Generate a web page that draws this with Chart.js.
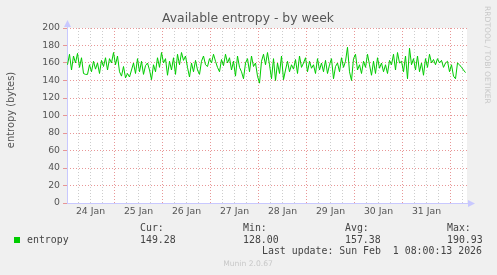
<!DOCTYPE html>
<html>
<head>
<meta charset="utf-8">
<script src="https://cdn.jsdelivr.net/npm/chart.js@4/dist/chart.umd.min.js"></script>
<style>
  html, body { margin: 0; padding: 0; background: #f0f0f0; }
  #wrap { width: 497px; height: 275px; }
</style>
</head>
<body>
<div id="wrap"><canvas id="entropyChart" width="497" height="275"></canvas></div>
<script>
// hours counted from 24 Jan 00:00, one sample per hour
const startHour = 0.5;
const dayLabels = ["24 Jan", "25 Jan", "26 Jan", "27 Jan", "28 Jan", "29 Jan", "30 Jan", "31 Jan"];
const entropy = [
  158, 170, 152, 168, 160, 171, 155, 166, 148, 147,
  147, 158, 150, 162, 153, 160, 148, 163, 156, 166,
  152, 165, 160, 172, 158, 168, 150, 145, 156, 143,
  148, 144, 152, 160, 148, 165, 150, 162, 147, 157,
  160, 152, 141, 158, 150, 166, 155, 172, 160, 165,
  146, 162, 152, 166, 147, 170, 158, 172, 163, 168,
  155, 144, 160, 150, 163, 152, 147, 162, 168, 158,
  156, 165, 160, 170, 162, 155, 150, 164, 157, 170,
  160, 166, 152, 162, 145, 168, 155, 150, 142, 160,
  165, 150, 168, 156, 160, 145, 137, 162, 170, 158,
  172, 158, 142, 165, 140, 160, 148, 168, 141, 152,
  162, 150, 158, 153, 164, 148, 168, 155, 160, 166,
  150, 162, 154, 158, 148, 165, 152, 160, 150, 163,
  148, 158, 165, 142, 156, 160, 150, 166, 155, 162,
  178, 150, 140, 165, 170, 152, 158, 148, 162, 155,
  170, 158, 146, 162, 148, 166, 154, 160, 150, 158,
  148, 163, 158, 170, 152, 172, 160, 162, 150, 168,
  142, 177, 158, 165, 152, 168, 150, 160, 146, 165,
  155, 170, 160, 164, 158, 165, 160, 163, 155, 160,
  162, 150, 158, 145, 142, 160, 158, 155, 152, 149
];
const summaryLabels = ["Cur:", "Min:", "Avg:", "Max:"];
const summaryValues = ["149.28", "128.00", "157.38", "190.93"];
const yTicks = [0, 10, 20, 30, 40, 50, 60, 70, 80, 90, 100, 110, 120, 130, 140, 150, 160, 170, 180, 190, 200];

const points = entropy.map((v, i) => ({ x: startHour + i, y: v }));

const majorGrid = "rgba(230,140,140,0.9)";
const minorGrid = "rgba(200,200,200,0.9)";
const axisBlue = "rgb(200,200,255)";

const muninDecor = {
  id: "muninDecor",
  beforeDraw(chart) {
    const { ctx, chartArea: a } = chart;
    ctx.save();
    ctx.fillStyle = "#ffffff";
    ctx.fillRect(a.left, a.top, a.right - a.left, a.bottom - a.top);
    ctx.restore();
  },
  beforeDatasetsDraw(chart) {
    const { ctx, chartArea: a } = chart;
    ctx.save();
    ctx.strokeStyle = axisBlue;
    ctx.fillStyle = axisBlue;
    ctx.lineWidth = 1;
    ctx.beginPath();
    ctx.moveTo(a.left + 0.5, a.bottom);
    ctx.lineTo(a.left + 0.5, a.top - 4);
    ctx.moveTo(a.left, a.bottom + 0.5);
    ctx.lineTo(a.right + 4, a.bottom + 0.5);
    ctx.stroke();
    // arrow heads
    ctx.beginPath();
    ctx.moveTo(a.left + 0.5, a.top - 8);
    ctx.lineTo(a.left - 3, a.top - 1);
    ctx.lineTo(a.left + 4, a.top - 1);
    ctx.closePath();
    ctx.fill();
    ctx.beginPath();
    ctx.moveTo(a.right + 8, a.bottom + 0.5);
    ctx.lineTo(a.right + 1, a.bottom - 3);
    ctx.lineTo(a.right + 1, a.bottom + 4);
    ctx.closePath();
    ctx.fill();
    ctx.restore();
  },
  afterDraw(chart) {
    const { ctx } = chart;
    ctx.save();
    ctx.textBaseline = "middle";

    // title
    ctx.fillStyle = "#555";
    ctx.font = "12.4px 'DejaVu Sans'";
    ctx.textAlign = "center";
    ctx.fillText("Available entropy - by week", 248, 19);

    // y axis title
    ctx.save();
    ctx.translate(11, 110);
    ctx.rotate(-Math.PI / 2);
    ctx.font = "9.9px 'DejaVu Sans'";
    ctx.fillText("entropy (bytes)", 0, 0);
    ctx.restore();

    // legend
    ctx.fillStyle = "#00cc00";
    ctx.fillRect(14, 237, 6, 6);
    ctx.fillStyle = "#444";
    ctx.font = "9.9px 'DejaVu Sans Mono'";
    ctx.textAlign = "left";
    ctx.fillText("entropy", 27, 240);
    const cols = [140, 243, 345, 447];
    summaryLabels.forEach((lab, i) => {
      ctx.fillText(lab, cols[i], 228);
      ctx.fillText(summaryValues[i], cols[i], 240);
    });
    ctx.textAlign = "right";
    ctx.fillText("Last update: Sun Feb  1 08:00:13 2026", 482, 251.5);

    // footer
    ctx.fillStyle = "#c8c8c8";
    ctx.font = "7.6px 'DejaVu Sans'";
    ctx.textAlign = "center";
    ctx.fillText("Munin 2.0.67", 248, 264);

    // vertical credit
    ctx.translate(487, 6);
    ctx.rotate(Math.PI / 2);
    ctx.textAlign = "left";
    ctx.fillStyle = "#c8c8c8";
    ctx.fillText("RRDTOOL / TOBI OETIKER", 0, 0);
    ctx.restore();
  }
};

new Chart(document.getElementById("entropyChart"), {
  type: "line",
  data: {
    datasets: [{
      label: "entropy",
      data: points,
      borderColor: "#00cc00",
      borderWidth: 1,
      pointRadius: 0,
      tension: 0,
      fill: false
    }]
  },
  options: {
    responsive: false,
    animation: false,
    events: [],
    layout: { padding: { left: 0, right: 30, top: 28, bottom: 0 } },
    plugins: {
      legend: { display: false },
      tooltip: { enabled: false },
      title: { display: false }
    },
    scales: {
      x: {
        type: "linear",
        min: 0.25,
        max: 200.25,
        afterFit(scale) { scale.height = 72; },
        afterBuildTicks(scale) {
          const t = [];
          for (let h = 6; h < 200; h += 6) t.push({ value: h });
          scale.ticks = t;
        },
        ticks: {
          autoSkip: false,
          maxRotation: 0,
          padding: 3,
          color: "#555",
          font: { family: "DejaVu Sans", size: 9.3 },
          callback(value) {
            if (value % 24 === 12) return dayLabels[(value - 12) / 24] || "";
            return "";
          }
        },
        grid: {
          drawTicks: false,
          lineWidth: 1,
          color(ctx) {
            const v = ctx.tick && ctx.tick.value;
            return v % 24 === 0 ? majorGrid : minorGrid;
          }
        },
        border: { display: false, dash: [1, 2] }
      },
      y: {
        min: 0,
        max: 200,
        afterFit(scale) { scale.width = 67; },
        afterBuildTicks(scale) {
          scale.ticks = yTicks.map(v => ({ value: v }));
        },
        ticks: {
          padding: 3,
          color: "#555",
          font: { family: "DejaVu Sans", size: 9.3 },
          callback(value) { return value % 20 === 0 ? String(value) : ""; }
        },
        grid: {
          drawTicks: true,
          tickLength: 4,
          lineWidth: 1,
          color(ctx) {
            const v = ctx.tick && ctx.tick.value;
            return v % 20 === 0 ? majorGrid : minorGrid;
          }
        },
        border: { display: false, dash: [1, 2] }
      }
    }
  },
  plugins: [muninDecor]
});
</script>
</body>
</html>
